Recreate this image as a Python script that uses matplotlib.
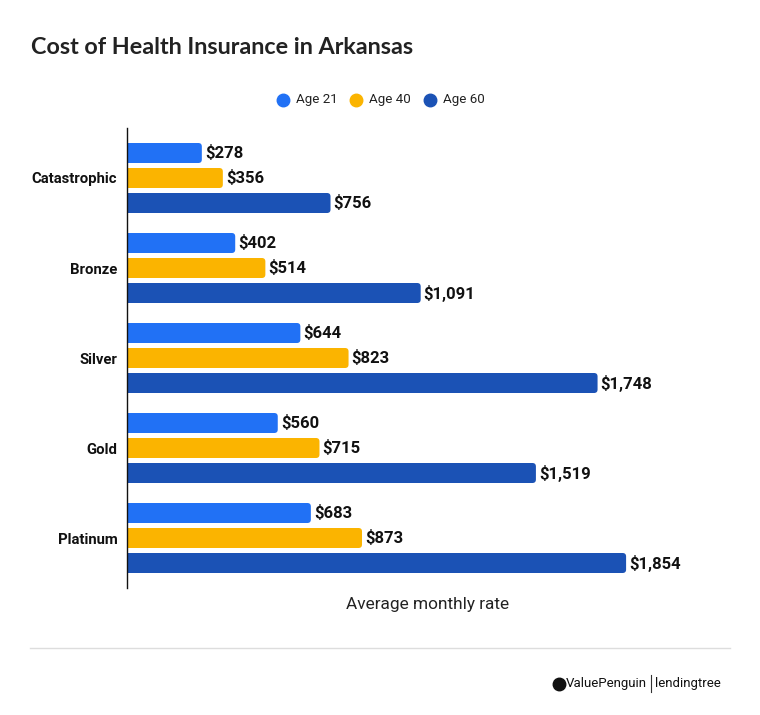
import matplotlib
matplotlib.use("Agg")
import matplotlib.pyplot as plt
from matplotlib.patches import FancyBboxPatch, Rectangle
from matplotlib.lines import Line2D
import numpy as np

categories = ["Catastrophic", "Bronze", "Silver", "Gold", "Platinum"]
series_names = ["Age 21", "Age 40", "Age 60"]
age21 = [278, 402, 644, 560, 683]
age40 = [356, 514, 823, 715, 873]
age60 = [756, 1091, 1748, 1519, 1854]
colors = ["#2171F5", "#FBB400", "#1B52B5"]

W, H = 760, 715
fig = plt.figure(figsize=(W / 100, H / 100), dpi=100)
fig.patch.set_facecolor("white")

def fx(px):
    return px / W

def fy(py):
    return 1 - py / H

ax_left, ax_right, ax_top, ax_bot = 127, 700, 128, 588
ax = fig.add_axes([fx(ax_left), fy(ax_bot), fx(ax_right - ax_left), (ax_bot - ax_top) / H])

xmax = (ax_right - ax_left) / 0.2692
ax.set_xlim(0, xmax)
ax.set_ylim(4 + 50 / 90, -50 / 90)

step = 25 / 90
bh = 20 / 90
y = np.arange(len(categories))
series = [age21, age40, age60]

px_per_x = (ax_right - ax_left) / xmax
px_per_y = 90.0
r_px = 3.5

for i, (vals, c) in enumerate(zip(series, colors)):
    ypos = y + (i - 1) * step
    bars = ax.barh(ypos, vals, height=bh, color=c, alpha=0)
    for b, v in zip(bars, vals):
        x0, y0 = b.get_x(), b.get_y()
        w, h = b.get_width(), b.get_height()
        rx = r_px / px_per_x
        fb = FancyBboxPatch((x0, y0), w, h,
                            boxstyle=f"round,pad=0,rounding_size={rx}",
                            mutation_aspect=(1 / px_per_y) / (1 / px_per_x),
                            facecolor=c, edgecolor="none")
        ax.add_patch(fb)
        ax.add_patch(Rectangle((x0, y0), w / 2, h, facecolor=c, edgecolor="none"))
        ax.text(v + 3 / px_per_x, b.get_y() + h / 2, f"${v:,}", va="center", ha="left",
                fontsize=12, fontweight="bold", family="Roboto", color="#111111")

ax.set_yticks(y)
ax.set_yticklabels(categories, fontsize=10.7, fontweight="bold", family="Roboto", color="#111111")
ax.tick_params(axis="y", length=0, pad=7)
ax.set_xticks([])
for s in ["top", "right", "bottom"]:
    ax.spines[s].set_visible(False)
ax.spines["left"].set_color("#111111")
ax.spines["left"].set_linewidth(1.0)

fig.text(fx(31), fy(48), "Cost of Health Insurance in Arkansas", fontsize=16.8, fontweight="bold",
         family="Lato", color="#222222", va="center", ha="left")

leg_x = [283, 356, 430]
for lx, name, c in zip(leg_x, series_names, colors):
    fig.add_artist(Line2D([fx(lx)], [fy(100)], marker="o", markersize=9, color=c,
                          linestyle="none", transform=fig.transFigure))
    fig.text(fx(lx + 13), fy(100), name, fontsize=9.6, family="Roboto", color="#222222",
             va="center", ha="left")

fig.text(fx(428), fy(605), "Average monthly rate", fontsize=12.4, family="Roboto",
         color="#222222", va="center", ha="center")

fig.add_artist(Line2D([fx(30), fx(730)], [fy(648), fy(648)], color="#DDDDDD", linewidth=1,
                      transform=fig.transFigure))

fig.add_artist(Line2D([fx(559)], [fy(684)], marker="o", markersize=9, color="#111111",
                      linestyle="none", transform=fig.transFigure))
fig.text(fx(566), fy(684), "ValuePenguin", fontsize=9.5, family="Roboto", color="#111111",
         va="center", ha="left")
fig.add_artist(Line2D([fx(651), fx(651)], [fy(675), fy(692)], color="#333333", linewidth=0.8,
                      transform=fig.transFigure))
fig.text(fx(655), fy(684), "lendingtree", fontsize=9.5, family="Roboto", color="#111111",
         va="center", ha="left")

fig.savefig("out.png", dpi=100, facecolor="white")
